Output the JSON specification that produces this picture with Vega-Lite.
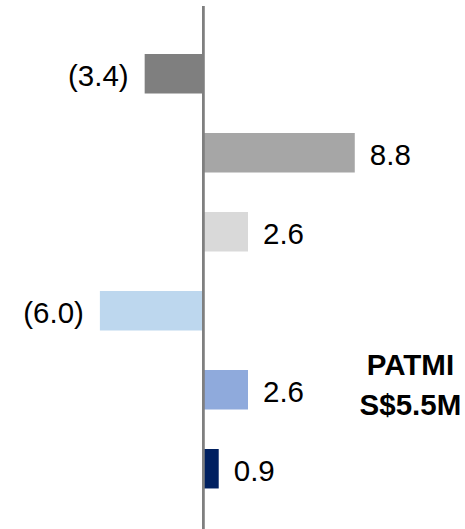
{
  "$schema": "https://vega.github.io/schema/vega-lite/v6.json",
  "autosize": "none",
  "padding": {"left": 0, "top": 6, "right": 0, "bottom": 0},
  "width": 465,
  "height": 523,
  "config": {
    "view": {"stroke": null},
    "text": {"font": "Liberation Sans", "fontSize": 29.5, "color": "#000000"}
  },
  "data": {
    "values": [
      {"segment": "Segment 1", "value": -3.4, "color": "#7f7f7f"},
      {"segment": "Segment 2", "value": 8.8, "color": "#a6a6a6"},
      {"segment": "Segment 3", "value": 2.6, "color": "#d9d9d9"},
      {"segment": "Segment 4", "value": -6.0, "color": "#bdd7ee"},
      {"segment": "Segment 5", "value": 2.6, "color": "#8faadc"},
      {"segment": "Segment 6", "value": 0.9, "color": "#002060"}
    ]
  },
  "encoding": {
    "y": {
      "field": "segment",
      "type": "nominal",
      "sort": null,
      "axis": null,
      "scale": {"paddingInner": 0.5, "paddingOuter": 0.56, "align": 0.542}
    }
  },
  "layer": [
    {
      "mark": {"type": "bar", "orient": "horizontal"},
      "encoding": {
        "x": {
          "field": "value",
          "type": "quantitative",
          "axis": null,
          "scale": {"domain": [-11.8, 15.2], "nice": false, "zero": false}
        },
        "color": {"field": "color", "type": "nominal", "scale": null, "legend": null}
      }
    },
    {
      "mark": {"type": "rule", "color": "#7f7f7f", "strokeWidth": 2},
      "encoding": {
        "x": {"datum": 0, "type": "quantitative"},
        "y": null
      }
    },
    {
      "transform": [{"filter": "datum.value >= 0"}],
      "mark": {"type": "text", "align": "left", "baseline": "middle", "dx": 15, "dy": 3},
      "encoding": {
        "x": {"field": "value", "type": "quantitative"},
        "text": {"field": "value", "type": "quantitative", "format": "(.1f"}
      }
    },
    {
      "transform": [{"filter": "datum.value < 0"}],
      "mark": {"type": "text", "align": "right", "baseline": "middle", "dx": -16, "dy": 3},
      "encoding": {
        "x": {"field": "value", "type": "quantitative"},
        "text": {"field": "value", "type": "quantitative", "format": "(.1f"}
      }
    },
    {
      "data": {"values": [{"segment": "Segment 5", "position": 12.03, "note": ["PATMI", "S$5.5M"]}]},
      "mark": {
        "type": "text",
        "align": "center",
        "baseline": "middle",
        "fontWeight": "bold",
        "lineHeight": 40,
        "dy": -24
      },
      "encoding": {
        "x": {"field": "position", "type": "quantitative"},
        "text": {"field": "note"}
      }
    }
  ]
}
